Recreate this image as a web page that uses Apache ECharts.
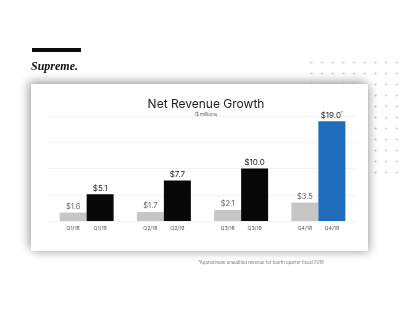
<!DOCTYPE html>
<html>
<head>
<meta charset="utf-8">
<script src="https://cdn.jsdelivr.net/npm/echarts@6/dist/echarts.min.js"></script>
<style>
  html, body { margin: 0; padding: 0; background: #fff; }
  #stage { position: relative; width: 420px; height: 322px; overflow: hidden; background: #fff; }
  /* dotted texture behind the card, top-right */
  #dots {
    position: absolute; left: 306px; top: 57px; width: 92px; height: 122px;
    background-image: radial-gradient(circle, #cfcfcf 0.9px, rgba(255,255,255,0) 1.2px);
    background-size: 10.7px 11px;
  }
  #card {
    position: absolute; left: 31px; top: 84px; width: 337px; height: 167px;
    background: #fff;
    box-shadow: -3px -3px 9px rgba(0,0,0,0.30), 3px 2px 8px rgba(0,0,0,0.22);
  }
  #chart { position: absolute; left: 0; top: 0; width: 420px; height: 322px; }
</style>
</head>
<body>
<div id="stage">
  <div id="dots"></div>
  <div id="card"></div>
  <div id="chart"></div>
</div>
<script>
// Net revenue by fiscal quarter, $ millions
const quarters2018 = ['Q1/18', 'Q2/18', 'Q3/18', 'Q4/18'];
const quarters2019 = ['Q1/19', 'Q2/19', 'Q3/19', 'Q4/19'];
const revenue2018 = [1.6, 1.7, 2.1, 3.5];
const revenue2019 = [5.1, 7.7, 10.0, 19.0];
const estimatedIndex = 3; // Q4/19 is an unaudited estimate
const yTicks = [0, 5, 10, 15, 20];

const groups = quarters2018.map((q, i) => i);

const chart = echarts.init(document.getElementById('chart'), null, { renderer: 'canvas' });

const valueLabel = (p) => '$' + p.value.toFixed(1);

chart.setOption({
  backgroundColor: 'transparent',
  animation: false,
  textStyle: { fontFamily: 'Inter, "Noto Sans", sans-serif' },
  title: [
    {
      text: 'Net Revenue Growth',
      left: 201, top: 93, textAlign: 'center',
      textStyle: { fontSize: 12, fontWeight: 'normal', color: '#1a1a1a', fontFamily: 'Inter, sans-serif' }
    },
    {
      text: '($ millions)',
      left: 201, top: 107, textAlign: 'center',
      textStyle: { fontSize: 4.5, fontWeight: 'normal', color: '#555' }
    }
  ],
  graphic: [
    { type: 'rect', shape: { x: 32, y: 48, width: 49, height: 4 }, style: { fill: '#0d0d0d' } },
    {
      type: 'text', left: 31, top: 61,
      style: { text: 'Supreme.', font: 'italic bold 12px "Liberation Serif", "DejaVu Serif", serif', fill: '#111' }
    },
    {
      type: 'text', left: 198, top: 261,
      style: { text: '*Approximate unaudited revenue for fourth quarter fiscal 2019', font: '4.3px Inter, sans-serif', fill: '#777' }
    }
  ],
  grid: { left: 48, right: 63, top: 116, bottom: 101, containLabel: false },
  xAxis: {
    type: 'category',
    data: groups,
    axisLine: { show: false },
    axisTick: { show: false },
    axisLabel: {
      margin: 5,
      interval: 0,
      formatter: (v, i) => '{q|' + quarters2018[i] + '}{q|' + quarters2019[i] + '}',
      rich: { q: { width: 27, align: 'center', fontSize: 5.2, color: '#555' } }
    }
  },
  yAxis: {
    type: 'value',
    min: yTicks[0], max: yTicks[yTicks.length - 1], interval: 5,
    axisLabel: { show: false },
    axisLine: { show: false },
    axisTick: { show: false },
    splitLine: { lineStyle: { color: '#efefef', width: 0.8 } }
  },
  series: [
    {
      name: 'FY2018',
      type: 'bar',
      data: revenue2018,
      barWidth: 27,
      barGap: '0%',
      itemStyle: { color: '#c6c6c6' },
      label: { show: true, position: 'top', distance: 2, formatter: valueLabel, fontSize: 7.5, color: '#666' }
    },
    {
      name: 'FY2019',
      type: 'bar',
      data: revenue2019.map((v, i) => ({
        value: v,
        itemStyle: { color: i === estimatedIndex ? '#1f6cba' : '#080808' }
      })),
      barWidth: 27,
      barGap: '0%',
      label: {
        show: true, position: 'top', distance: 2,
        formatter: (p) => p.dataIndex === estimatedIndex
          ? '{v|$' + p.value.toFixed(1) + '}{s|*}'
          : '{v|$' + p.value.toFixed(1) + '}',
        rich: {
          v: { fontSize: 8, color: '#222' },
          s: { fontSize: 4, color: '#222', verticalAlign: 'top', padding: [0, 0, 4, 0] }
        }
      }
    }
  ]
});
</script>
</body>
</html>
